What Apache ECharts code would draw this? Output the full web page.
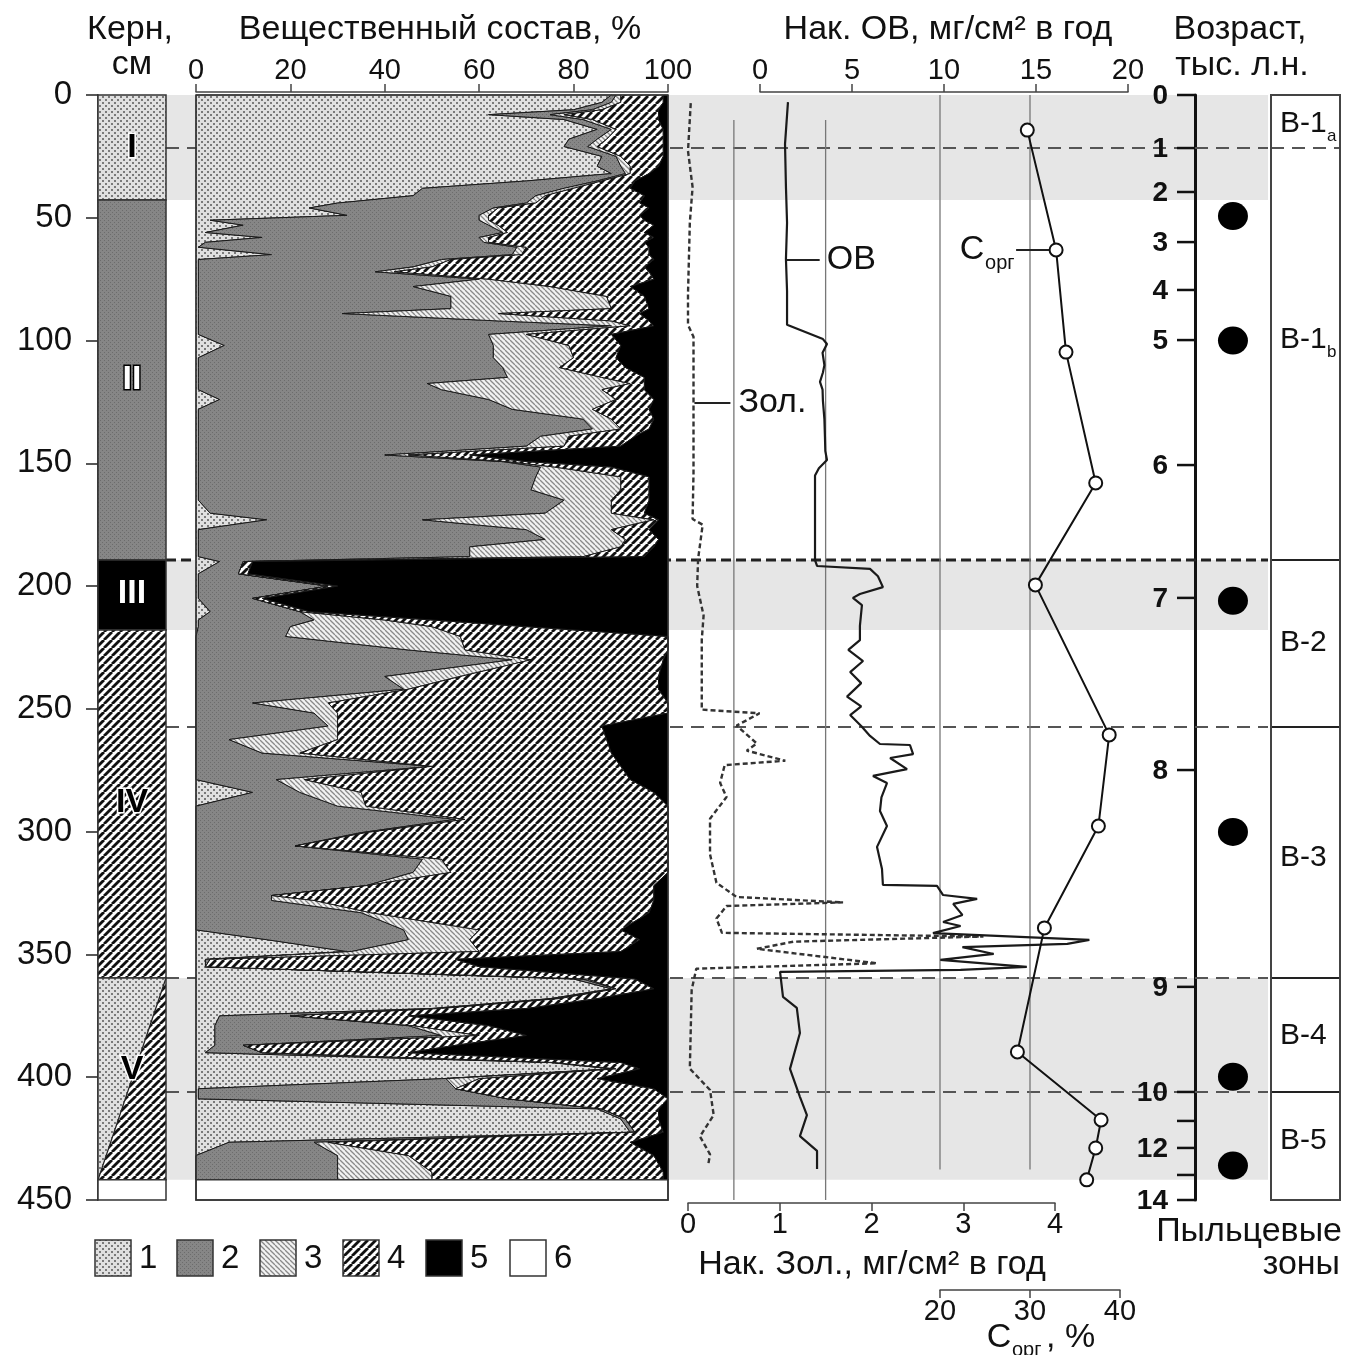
<!DOCTYPE html>
<html><head><meta charset="utf-8">
<script src="https://cdn.jsdelivr.net/npm/echarts@6/dist/echarts.min.js"></script>
<style>html,body{margin:0;padding:0;background:#fff}#chart{width:1357px;height:1355px}</style>
</head><body><div id="chart"></div>
<script>
// ===================== DATA =====================
// Depth scale (cm)
const depthMin = 0, depthMax = 450, depthStep = 50;

// Core lithology units
const coreTop    = [0, 42.8, 189.4, 217.9, 359.6, 441.8];
const coreBottom = [42.8, 189.4, 217.9, 359.6, 441.8, 450];
const coreFill   = [1, 2, 5, 4, 'split', 6];
const coreLabel  = ['I', 'II', 'III', 'IV', 'V', ''];
const coreLabelDepth = [21.6, 116, 203, 288, 397, 0];

// Composition (%) by depth – components 1..5
const compDepth = [0,3,6,8,10,14,18,21,25,29,32,35,38,41,44,46,49,51,53,56,58,60,62,65,67,70,72,75,78,82,87,89,92,94,97.5,102,107,111,115,117.5,120,124,128,132,136,139,143,146.6,149.3,151.5,155.5,160.8,165,170.3,173,177,181,184,188,190,195,200,205,210.4,213.8,216.5,220.5,226,230,236.8,242,247.6,251.7,257,262.5,268,273.4,278.8,284,289.6,295,300.4,305.8,311.2,316.6,322,326,328,333,340,344,348.8,352,355,360,364,368,372,375,379,383,387,390,394,396.6,400.6,404.7,408.8,412.9,417,422.4,426.5,431.9,438.7,441.8];
const comp1 = [88,86,80,62,78,85,79,78,86,85,88,70,48,46,30,24,32,3,10,2,14,2,0.5,16,0.5,0.5,0.5,0.5,0.5,0.5,0.5,0.5,0.5,0.5,0.5,6,0.5,0.5,0.5,0.5,0.5,5,0.5,0.5,0.5,0.5,0.5,0.5,0.5,0.5,0.5,0.5,0.5,3,15,0.5,0.5,0.5,0.5,5,0.5,0.5,0.5,3,0.5,0.5,0,0,0,0,0,0,0,0,0,0,0,0,12,0,0,0,0,0,0,0,0,0,0,0,15,32,2,2,80,88,75,50,5,4,4,4,2,75,88,52,0.5,0.5,85,90,92,7,0,0,0];
const comp2 = [1,2,4,13,4,3,6,5,3,5,3,15,30,26,40,39,28,57,52,63,46,59,67.5,51,51.5,45.5,37.5,59.5,45.5,53.5,53.5,30.5,63.5,87.5,61.5,57,62.5,64.5,65.5,48.5,51.5,57,66.5,81.5,83.5,72.5,69.5,39.5,64.5,72.5,71.5,70.5,77.5,71,33,69.5,73.5,57.5,57.5,5,8.5,27.5,11.5,19,24.5,19.5,19,45,67,40,44,12,25,28,7,14,50,17,10,30,55,35,21,48,46,36,16,16,35,44,30,1,1,0,2,1,1,2,15,41,48,6,12,1,1,1,54.5,65.5,1,1,1,18,30,30,30];
const comp3 = [1,2,2,3,2,1,2,2,1,2,1,1,2,2,2,1,2,2,2,1,2,1,2,2,2,4,4,2,29,33,34,33,24,4,8,16,17,12,20,43,34,27,17,6,6,6,8,5,1,3,18,19,10,14,49,18,17,32,24,0,0,0,0,0,15,30,37,12,4,16,1,16,5,2,23,8,0,6,13,6,2,1,0,4,8,0,0,9,2,16,13,27,0,0,1,0,1,0,0,1,8,0,0,0,0,7,0,0,0,0,0,3,15,20,20];
const comp4 = [9,9,12,20,14,10,12,14,9,6,4,7,12,21,22,32,32,33,33,29,35,33,26,27,43,45,54,35,17,8,8,30,8,5,18,11,9,14,9,3,9,8,12,9,6,14,12,13,4,12,6,6,8,7,1,8,7,7,13,2,2,2,2,2,10,20,44,43,28,42,53,72,70,56,57,66,40,69,62,64,43,64,79,48,46,61,81,72,59,30,36,30,52,58,10,8,8,18,25,16,10,45,31,14,5,25,42,34,12,7,6,64,52,49,49];
const comp5 = [1,1,2,2,2,1,1,1,1,2,4,7,8,5,6,4,6,5,3,5,3,5,4,4,3,5,4,3,8,5,4,6,4,3,12,10,11,9,5,5,5,3,4,3,4,7,10,42,30,12,4,4,4,5,2,4,2,3,5,88,89,70,86,76,50,30,0,0,1,2,2,0,0,14,13,12,10,8,3,0,0,0,0,0,0,3,3,3,4,10,6,10,45,40,7,3,15,30,55,38,30,45,55,10,6,15,3,0,2,2,1,8,3,1,1];

// Accumulation of ash (Нак. Зол., mg/cm2 per year)
const zolDepth = [3.3,22.8,37.5,52,81,93.6,98.5,124.6,154,172.7,175,189,200,212,221.9,250.3,251.8,256.8,264.1,267,271.1,272.9,280.1,285.9,294.7,309.2,320.8,323.7,326.6,328.8,330.3,335.4,341.2,342.7,344.8,347.7,353.6,355.8,364.5,396.5,405.2,415.4,424.1,431.4,435.7];
const zolValue = [0.03,0.0,0.05,0.02,0.0,0.0,0.06,0.06,0.06,0.05,0.16,0.11,0.1,0.17,0.15,0.15,0.78,0.53,0.75,0.64,1.06,0.4,0.35,0.42,0.24,0.24,0.31,0.42,0.53,1.69,0.42,0.31,0.37,3.22,1.15,0.75,2.06,0.09,0.04,0.02,0.24,0.28,0.13,0.24,0.22];

// Accumulation of organic matter (Нак. ОВ, mg/cm2 per year)
const ovDepth = [2.9,20,37.5,52,66.8,79.8,93.6,99.4,101.4,105,110,113,116.8,120,124.6,132,139.3,145,148.6,152,155,189.4,191.8,193,196,200.4,203.2,204.8,207.7,216.2,222,226,230.5,235,239.5,245,249,252.5,257,261,264.3,264.7,268.4,270,274.5,277.3,280.2,286,291.6,297.7,306.2,315.2,321.7,322.1,325.8,327.4,329.4,333.9,336.8,338.4,341.3,344.1,345.7,347,349.8,352.2,355.1,356.3,357.1,367.3,371.8,382,396.6,408,415.4,424,430,437.4];
const ovValue = [1.52,1.36,1.41,1.47,1.41,1.47,1.47,3.42,3.64,3.4,3.5,3.42,3.26,3.4,3.42,3.5,3.53,3.55,3.64,3.2,2.99,2.99,3.1,5.98,6.41,6.68,5.43,5.05,5.54,5.43,5.43,4.8,5.6,4.9,5.5,4.73,5.5,4.9,5.5,5.98,6.52,8.15,8.32,7.07,7.99,6.14,6.9,6.6,6.52,6.9,6.36,6.63,6.68,9.62,9.95,11.8,10.5,11.0,9.95,10.9,9.4,17.9,16.7,11.0,12.7,9.8,14.5,10.9,1.09,1.25,2.0,2.17,1.63,2.17,2.55,2.17,3.1,3.1];

// Organic carbon (C орг, %)
const corgDepth = [14.3,63.1,104.7,158.0,199.5,260.6,297.7,339.2,389.7,417.4,428.8,441.8];
const corgValue = [29.7,32.9,34.0,37.3,30.6,38.8,37.6,31.6,28.6,37.9,37.3,36.3];

// Age scale (тыс. л.н.) – labels and their depths
const ageLabels = ['0','1','2','3','4','5','6','7','8','9','10','','12','','14'];
const ageDepths = [0,21.6,39.5,59.9,79.4,99.8,150.7,204.8,274.9,363.2,406,417.8,428.8,439.8,450];

// Pollen samples and zones
const pollenDepth = [49.3,100,206,300.1,399.8,436];
const zoneBounds = [0,21.6,189.4,257.4,359.6,406,450];
const zoneNames = ['В-1','В-1','В-2','В-3','В-4','В-5'];
const zoneSubs  = ['a','b','','','',''];
const zoneLabelDepth = [11.8,99.8,223.2,310.7,383.2,426];

// Boundaries, shaded intervals, reference lines
const boundaryDepth = [21.6,189.4,257.4,359.6,406];
const boundaryBold  = [false,true,false,false,false];
const bandTop = [0,189.4,359.6];
const bandBottom = [42.8,217.9,441.8];
const zolRefLines = [0.5,1.5];
const corgRefLines = [20,30];

// ===================== STYLE HELPERS =====================
const FONT = '"Liberation Sans", Arial, Helvetica, sans-serif';
function makePattern(type){
  const c = document.createElement('canvas');
  let s;
  if(type===1){ s=6; c.width=c.height=s; const x=c.getContext('2d');
    x.fillStyle='#e0e0e0'; x.fillRect(0,0,s,s); x.fillStyle='#7a7a7a'; x.fillRect(0,0,2,2); x.fillRect(3,3,2,2); }
  else if(type===2){ s=4; c.width=c.height=s; const x=c.getContext('2d');
    x.fillStyle='#868686'; x.fillRect(0,0,s,s); x.fillStyle='#6c6c6c'; x.fillRect(0,0,1,1); x.fillRect(2,2,1,1); }
  else if(type===3){ s=5; c.width=c.height=s; const x=c.getContext('2d');
    x.fillStyle='#f2f2f2'; x.fillRect(0,0,s,s); x.strokeStyle='#8a8a8a'; x.lineWidth=1.3;
    for(const o of [-s,0,s]){ x.beginPath(); x.moveTo(o,0); x.lineTo(o+s,s); x.stroke(); } }
  else if(type===4){ s=8; c.width=c.height=s; const x=c.getContext('2d');
    x.fillStyle='#fff'; x.fillRect(0,0,s,s); x.strokeStyle='#111'; x.lineWidth=2.8;
    for(const o of [-s,0,s]){ x.beginPath(); x.moveTo(o,s); x.lineTo(o+s,0); x.stroke(); } }
  return {image:c, repeat:'repeat'};
}
const PAT = {1:makePattern(1), 2:makePattern(2), 3:makePattern(3), 4:makePattern(4), 5:'#000', 6:'#fff'};
const comps = [comp1,comp2,comp3,comp4,comp5];
const cum = [compDepth.map(()=>0)];
for(let k=0;k<5;k++) cum.push(compDepth.map((d,i)=>cum[k][i]+comps[k][i]));

function rectFrom(api,x0,d0,x1,d1){
  const a=api.coord([x0,d0]), b=api.coord([x1,d1]);
  return {x:Math.min(a[0],b[0]), y:Math.min(a[1],b[1]), width:Math.abs(b[0]-a[0]), height:Math.abs(b[1]-a[1])};
}
function txt(text,x,y,font,align,vAlign,fill,extra){
  return {type:'text', style:Object.assign({text, x, y, font, fill:fill||'#111',
    textAlign:align, textVerticalAlign:vAlign, align:align, verticalAlign:vAlign}, extra||{})};
}

// ===================== CHART =====================
const chart = echarts.init(document.getElementById('chart'), null, {renderer:'canvas'});
const T = 95, H = 1105;
const grid = [
  {left:98,  top:T, width:68,  height:H},   // 0 core
  {left:196, top:T, width:472, height:H},   // 1 composition
  {left:688, top:T, width:367, height:H},   // 2 ash
  {left:760, top:T, width:368, height:H},   // 3 OM
  {left:940, top:T, width:180, height:H},   // 4 Corg
  {left:1195,top:T, width:73,  height:H},   // 5 age / pollen samples
  {left:1271,top:T, width:69,  height:H},   // 6 pollen zones
  {left:166, top:T, width:1102,height:H}    // 7 background
];
const yAxis = grid.map((g,i)=>({
  gridIndex:i, type:'value', min:depthMin, max:depthMax, inverse:true, interval:depthStep,
  show: i===0 || i===5,
  axisLine:{show:true, onZero:false, lineStyle:{color:'#111', width: i===5?3:1.5}},
  axisTick:{show:i===0, length:12, lineStyle:{color:'#222', width:1.5}},
  axisLabel:{show:i===0, fontSize:33, color:'#111', fontFamily:FONT, margin:26},
  splitLine:{show:false}
}));
const axisStyle = (extra)=>Object.assign({
  type:'value', axisLine:{show:true, onZero:false, lineStyle:{color:'#444', width:1.5}},
  axisTick:{show:true, length:8, lineStyle:{color:'#444', width:1.5}},
  axisLabel:{fontSize:29, color:'#111', fontFamily:FONT, margin:7},
  splitLine:{show:false}
}, extra);
const xAxis = [
  {gridIndex:0, type:'value', min:0, max:1, show:false},
  axisStyle({gridIndex:1, min:0, max:100, interval:20, position:'top', offset:3}),
  axisStyle({gridIndex:2, min:0, max:4, interval:1, position:'bottom', offset:3}),
  axisStyle({gridIndex:3, min:0, max:20, interval:5, position:'top', offset:3}),
  axisStyle({gridIndex:4, min:20, max:40, interval:10, position:'bottom', offset:90}),
  {gridIndex:5, type:'value', min:0, max:1, show:false},
  {gridIndex:6, type:'value', min:0, max:1, show:false},
  {gridIndex:7, type:'value', min:0, max:1, show:false}
];

const series = [];
// grey bands
series.push({type:'custom', xAxisIndex:7, yAxisIndex:7, z:0, data:bandTop.map((t,i)=>[i]),
  renderItem:(p,api)=>({type:'rect', shape:rectFrom(api,0,bandTop[p.dataIndex],1,bandBottom[p.dataIndex]), style:{fill:'#e6e6e6'}})});
// boundary dashed lines
series.push({type:'custom', xAxisIndex:7, yAxisIndex:7, z:1, data:boundaryDepth.map((d,i)=>[i]),
  renderItem:(p,api)=>{const i=p.dataIndex, a=api.coord([0,boundaryDepth[i]]), b=api.coord([1,boundaryDepth[i]]);
    return {type:'line', shape:{x1:a[0],y1:a[1],x2:b[0],y2:b[1]}, style:{stroke: boundaryBold[i]?'#222':'#555', lineWidth: boundaryBold[i]?3:2, lineDash: boundaryBold[i]?[10,5]:[13,8]}};}});
// reference vertical lines in right panel
series.push({type:'custom', xAxisIndex:2, yAxisIndex:2, z:1, data:zolRefLines.map((v,i)=>[i]),
  renderItem:(p,api)=>{const v=zolRefLines[p.dataIndex], a=api.coord([v,10.2]), b=api.coord([v,450]);
    return {type:'line', shape:{x1:a[0],y1:a[1],x2:b[0],y2:b[1]}, style:{stroke:'#777', lineWidth:1.3}};}});
series.push({type:'custom', xAxisIndex:4, yAxisIndex:4, z:1, data:corgRefLines.map((v,i)=>[i]),
  renderItem:(p,api)=>{const v=corgRefLines[p.dataIndex], a=api.coord([v,0]), b=api.coord([v,437.6]);
    return {type:'line', shape:{x1:a[0],y1:a[1],x2:b[0],y2:b[1]}, style:{stroke:'#777', lineWidth:1.3}};}});
// core column
series.push({type:'custom', xAxisIndex:0, yAxisIndex:0, z:3, data:coreTop.map((t,i)=>[i]),
  renderItem:(p,api)=>{
    const i=p.dataIndex, r=rectFrom(api,0,coreTop[i],1,coreBottom[i]), ch=[];
    if(coreFill[i]==='split'){
      const tl=api.coord([0,coreTop[i]]), tr=api.coord([1,coreTop[i]]), bl=api.coord([0,coreBottom[i]]), br=api.coord([1,coreBottom[i]]);
      ch.push({type:'polygon', shape:{points:[tl,tr,bl]}, style:{fill:PAT[1]}});
      ch.push({type:'polygon', shape:{points:[tr,br,bl]}, style:{fill:PAT[4]}});
      ch.push({type:'line', shape:{x1:tr[0],y1:tr[1],x2:bl[0],y2:bl[1]}, style:{stroke:'#222', lineWidth:1.3}});
    } else ch.push({type:'rect', shape:r, style:{fill:PAT[coreFill[i]]}});
    ch.push({type:'rect', shape:r, style:{fill:'none', stroke:'#333', lineWidth:1.5}});
    if(coreLabel[i]){
      const c=api.coord([0.5,coreLabelDepth[i]]);
      const dark = (i===0||i===3||i===4);
      ch.push(txt(coreLabel[i], c[0], c[1], 'bold 34px '+FONT, 'center','middle', dark?'#000':'#fff',
        {stroke: dark?'#fff':'#000', lineWidth: i===2?0:3}));
    }
    return {type:'group', children:ch};
  }});
// composition polygons
[1,2,3,4,5].forEach(k=>{
  series.push({type:'custom', xAxisIndex:1, yAxisIndex:1, z:3, data:[[0,0]],
    renderItem:(p,api)=>{
      const pts=[];
      for(let i=0;i<compDepth.length;i++) pts.push(api.coord([cum[k-1][i], compDepth[i]]));
      for(let i=compDepth.length-1;i>=0;i--) pts.push(api.coord([cum[k][i], compDepth[i]]));
      return {type:'polygon', shape:{points:pts}, style:{fill:PAT[k], stroke:'#1a1a1a', lineWidth:1, lineJoin:'round'}};
    }});
});
// composition: no-data box and frame
series.push({type:'custom', xAxisIndex:1, yAxisIndex:1, z:8, data:[[0,0]],
  renderItem:(p,api)=>({type:'group', children:[
    {type:'rect', shape:rectFrom(api,0,compDepth[compDepth.length-1],100,depthMax), style:{fill:'#fff', stroke:'#333', lineWidth:1.5}},
    {type:'rect', shape:rectFrom(api,0,depthMin,100,depthMax), style:{fill:'none', stroke:'#333', lineWidth:1.5}}
  ]})});
// ash line
series.push({type:'line', xAxisIndex:2, yAxisIndex:2, z:5, showSymbol:false, symbol:'none',
  data:zolDepth.map((d,i)=>[zolValue[i], d]), lineStyle:{color:'#333', width:2.4, type:[5,3]}});
// OM line
series.push({type:'line', xAxisIndex:3, yAxisIndex:3, z:5, showSymbol:false, symbol:'none',
  data:ovDepth.map((d,i)=>[ovValue[i], d]), lineStyle:{color:'#1a1a1a', width:2.2}});
// Corg line
series.push({type:'line', xAxisIndex:4, yAxisIndex:4, z:6, symbol:'circle', symbolSize:13,
  data:corgDepth.map((d,i)=>[corgValue[i], d]), lineStyle:{color:'#111', width:2},
  itemStyle:{color:'#fff', borderColor:'#111', borderWidth:2, opacity:1}});
// annotations
series.push({type:'custom', xAxisIndex:3, yAxisIndex:3, z:6, data:[[0,0]],
  renderItem:(p,api)=>{const a=api.coord([1.45,67.2]);
    return {type:'group', children:[
      {type:'line', shape:{x1:a[0],y1:a[1],x2:a[0]+33,y2:a[1]}, style:{stroke:'#222', lineWidth:2}},
      txt('ОВ', a[0]+40, a[1], '34px '+FONT, 'left','middle')]};}});
series.push({type:'custom', xAxisIndex:2, yAxisIndex:2, z:6, data:[[0,0]],
  renderItem:(p,api)=>{const a=api.coord([0.07,125.4]);
    return {type:'group', children:[
      {type:'line', shape:{x1:a[0],y1:a[1],x2:a[0]+36,y2:a[1]}, style:{stroke:'#222', lineWidth:2}},
      txt('Зол.', a[0]+44, a[1], '34px '+FONT, 'left','middle')]};}});
series.push({type:'custom', xAxisIndex:4, yAxisIndex:4, z:6, data:[[0,0]],
  renderItem:(p,api)=>{const a=api.coord([corgValue[1],corgDepth[1]]);
    return {type:'group', children:[
      {type:'line', shape:{x1:a[0]-6,y1:a[1],x2:a[0]-40,y2:a[1]}, style:{stroke:'#222', lineWidth:2}},
      txt('C', a[0]-84, a[1], '34px '+FONT, 'center','middle'),
      txt('орг', a[0]-71, a[1]+14, '20px '+FONT, 'left','middle')]};}});
// age ticks
series.push({type:'custom', xAxisIndex:5, yAxisIndex:5, z:5, data:ageDepths.map((d,i)=>[i]),
  renderItem:(p,api)=>{const i=p.dataIndex, a=api.coord([0,ageDepths[i]]);
    const ch=[{type:'line', shape:{x1:a[0]-18,y1:a[1],x2:a[0],y2:a[1]}, style:{stroke:'#111', lineWidth:2.5}}];
    if(ageLabels[i]) ch.push(txt(ageLabels[i], a[0]-27, a[1]+1, 'bold 28px '+FONT, 'right','middle','#111'));
    return {type:'group', children:ch};}});
// pollen samples
series.push({type:'scatter', xAxisIndex:5, yAxisIndex:5, z:5, symbol:'circle', symbolSize:[30,28],
  data:pollenDepth.map(d=>[0.52,d]), itemStyle:{color:'#000', opacity:1}});
// pollen zones
series.push({type:'custom', xAxisIndex:6, yAxisIndex:6, z:5, data:zoneNames.map((n,i)=>[i]),
  renderItem:(p,api)=>{const i=p.dataIndex, ch=[];
    const r=rectFrom(api,0,zoneBounds[i],1,zoneBounds[i+1]);
    ch.push({type:'rect', shape:r, style:{fill:'#fff'}});
    const c=api.coord([0.13,zoneLabelDepth[i]]);
    ch.push(txt(zoneNames[i], c[0], c[1], '30px '+FONT, 'left','middle'));
    if(zoneSubs[i]) ch.push(txt(zoneSubs[i], c[0]+47, c[1]+12, '17px '+FONT, 'left','middle'));
    if(i>0){ const a=api.coord([0,zoneBounds[i]]), b=api.coord([1,zoneBounds[i]]);
      ch.push({type:'line', shape:{x1:a[0],y1:a[1],x2:b[0],y2:b[1]}, style:{stroke: i===1?'#555':'#222', lineWidth:2, lineDash: i===1?[13,8]:null}}); }
    return {type:'group', children:ch};}});
series.push({type:'custom', xAxisIndex:6, yAxisIndex:6, z:6, data:[[0,0]],
  renderItem:(p,api)=>({type:'rect', shape:rectFrom(api,0,zoneBounds[0],1,zoneBounds[zoneBounds.length-1]), style:{fill:'none', stroke:'#444', lineWidth:2}})});

// legend & titles
const legendFill = [PAT[1],PAT[2],PAT[3],PAT[4],PAT[5],PAT[6]];
const legendX = [95,177,260,343,426,510];
const graphic = [];
legendFill.forEach((f,i)=>{
  graphic.push({type:'rect', shape:{x:legendX[i], y:1240, width:36, height:36}, style:{fill:f, stroke:'#333', lineWidth:1.5}});
  graphic.push({type:'text', style:{text:String(i+1), x:legendX[i]+44, y:1259, font:'33px '+FONT, fill:'#111', textVerticalAlign:'middle', verticalAlign:'middle'}});
});
const T2 = (text,x,y,align,size)=>({type:'text', style:{text, x, y, font:(size||34)+'px '+FONT, fill:'#111', textAlign:align, align:align, textVerticalAlign:'middle', verticalAlign:'middle'}});
graphic.push(T2('Керн,',130,30,'center'));
graphic.push(T2('см',132,65,'center'));
graphic.push(T2('Вещественный состав, %',440,30,'center'));
graphic.push(T2('Нак. ОВ, мг/см² в год',948,30,'center'));
graphic.push(T2('Возраст,',1240,30,'center'));
graphic.push(T2('тыс. л.н.',1242,66,'center'));
graphic.push(T2('Нак. Зол., мг/см² в год',872,1265,'center'));
graphic.push(T2('Пыльцевые',1342,1232,'right'));
graphic.push(T2('зоны',1340,1265,'right'));
graphic.push(T2('C',999,1338,'center'));
graphic.push(T2('орг',1012,1350,'left',20));
graphic.push(T2(', %',1046,1338,'left'));

chart.setOption({animation:false, backgroundColor:'#fff', grid, xAxis, yAxis, series, graphic});
</script></body></html>
